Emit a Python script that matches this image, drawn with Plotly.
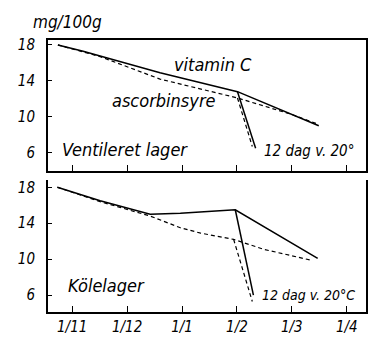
import plotly.graph_objects as go

# x axis: months since 1 Nov (0 = 1/11, 1 = 1/12, ... 5 = 1/4)
tick_vals = [0, 1, 2, 3, 4, 5]
tick_text = ["1/11", "1/12", "1/1", "1/2", "1/3", "1/4"]
y_ticks = [6, 10, 14, 18]

# Ventileret lager
vent_vit_x = [-0.26, 0.2, 1.6, 2.34, 3.01, 4.49]
vent_vit_y = [18.0, 17.3, 14.9, 13.8, 12.8, 9.0]
vent_vit_drop_x = [3.01, 3.34]
vent_vit_drop_y = [12.8, 6.5]
vent_asc_x = [-0.26, 0.51, 1.6, 2.34, 3.01, 3.98, 4.47]
vent_asc_y = [18.0, 16.7, 14.2, 13.1, 12.1, 10.3, 9.2]
vent_asc_drop_x = [3.01, 3.28]
vent_asc_drop_y = [12.1, 6.7]

# Kølelager
kol_vit_x = [-0.27, 0.51, 1.42, 1.97, 2.97, 4.47]
kol_vit_y = [18.0, 16.5, 15.0, 15.1, 15.5, 10.1]
kol_vit_drop_x = [2.97, 3.3]
kol_vit_drop_y = [15.5, 6.0]
kol_asc_x = [-0.27, 0.51, 1.42, 1.97, 2.34, 2.94, 3.49, 4.34]
kol_asc_y = [18.0, 16.4, 14.8, 13.5, 12.9, 12.2, 11.1, 9.9]
kol_asc_drop_x = [2.94, 3.28]
kol_asc_drop_y = [12.2, 5.3]

FONT = "Liberation Sans Narrow, DejaVu Sans Condensed, Liberation Sans, sans-serif"

fig = go.Figure()

def add(x, y, dash, width, xa, ya):
    fig.add_trace(go.Scatter(x=x, y=y, mode="lines", xaxis=xa, yaxis=ya,
                             line=dict(color="black", width=width, dash=dash),
                             showlegend=False, hoverinfo="skip"))

add(vent_vit_x, vent_vit_y, "solid", 1.5, "x", "y")
add(vent_vit_drop_x, vent_vit_drop_y, "solid", 1.5, "x", "y")
add(vent_asc_x, vent_asc_y, "4px,3px", 1.2, "x", "y")
add(vent_asc_drop_x, vent_asc_drop_y, "4px,3px", 1.2, "x", "y")
add(kol_vit_x, kol_vit_y, "solid", 1.5, "x2", "y2")
add(kol_vit_drop_x, kol_vit_drop_y, "solid", 1.5, "x2", "y2")
add(kol_asc_x, kol_asc_y, "4px,3px", 1.2, "x2", "y2")
add(kol_asc_drop_x, kol_asc_drop_y, "4px,3px", 1.2, "x2", "y2")

xcommon = dict(range=[-0.44, 5.35], tickvals=tick_vals, ticks="inside", ticklen=6,
               tickcolor="black", showline=True, linecolor="black", linewidth=2,
               showgrid=False, zeroline=False)
ycommon = dict(tickvals=y_ticks, ticks="inside", ticklen=4, tickcolor="black",
               showline=True, linecolor="black", linewidth=2, showgrid=False,
               zeroline=False, ticklabelstandoff=8,
               tickfont=dict(family=FONT, size=15, style="italic", color="black"))

fig.update_layout(
    width=392, height=348,
    margin=dict(l=48, r=26, t=40, b=33),
    paper_bgcolor="white", plot_bgcolor="white",
    font=dict(family=FONT, color="black", style="italic"),
    xaxis=dict(**xcommon, domain=[0, 1], anchor="y", mirror=True, showticklabels=False),
    yaxis=dict(**ycommon, domain=[0.52, 1], range=[4.02, 18.55], anchor="x", mirror=True),
    xaxis2=dict(**xcommon, domain=[0, 1], anchor="y2", mirror=False,
                ticktext=tick_text,
                tickfont=dict(family=FONT, size=15, style="italic", color="black")),
    yaxis2=dict(**ycommon, domain=[0, 0.484], range=[4.13, 18.77], anchor="x2", mirror=True),
)

def note(text, x, y, xa, ya, size):
    fig.add_annotation(text=text, x=x, y=y, xref=xa, yref=ya, showarrow=False,
                       xanchor="center", yanchor="middle",
                       font=dict(family=FONT, size=size, style="italic", color="black"))

note("mg/100g", 0.06, 1.065, "paper", "paper", 17)
note("vitamin C", 2.57, 15.8, "x", "y", 18)
note("ascorbinsyre", 1.68, 11.83, "x", "y", 18)
note("Ventileret lager", 0.97, 6.33, "x", "y", 18)
note("12 dag v. 20°", 4.31, 6.2, "x", "y", 15)
note("Kölelager", 0.62, 7.1, "x2", "y2", 18)
note("12 dag v. 20°C", 4.31, 6.0, "x2", "y2", 14)

fig.write_html("out.html")
